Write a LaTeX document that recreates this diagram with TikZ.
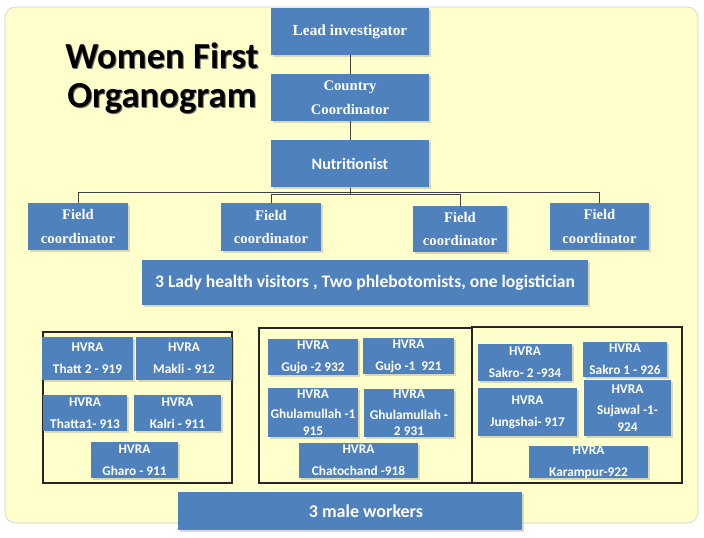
\documentclass[tikz,border=0pt]{standalone}
\usepackage{fontspec}
\setmainfont{Liberation Serif}
\newfontfamily\slidefont{Carlito}
\usetikzlibrary{positioning,shadows}
\definecolor{boxblue}{HTML}{4F81BD}
\definecolor{slideyellow}{HTML}{FFFFCC}

\begin{document}
\begin{tikzpicture}[x=0.75pt, y=-0.75pt, node distance=14pt,
    b/.style={rectangle, fill=boxblue, text=white, inner sep=0pt, align=center,
      drop shadow={shadow xshift=1.2pt, shadow yshift=-1.2pt, opacity=0.3}},
    sb/.style={b, font=\bfseries\fontsize{11}{17.5}\selectfont},
    hb/.style={b, font=\slidefont\bfseries\fontsize{10}{12.5}\selectfont},
    grp/.style={rectangle, draw=black!85, line width=0.8pt, inner sep=0pt},
    ln/.style={draw=black!75, line width=0.6pt},
    tt/.style={font=\slidefont\bfseries\fontsize{27.5}{29}\selectfont, align=center}]
    \useasboundingbox (0,0) rectangle (704,537);
    \fill[white] (0,0) rectangle (704,537);
    \draw[fill=slideyellow, draw=black!20, rounded corners=8pt] (5,7) rectangle (698,523);

    % title
    \node[tt, text=black!55] (titleshade) at (163,79.5) {Women First\\Organogram};
    \node[tt] (title) at (162,78) {Women First\\Organogram};

    % top chain
    \node[sb, font=\bfseries\fontsize{11.5}{17.5}\selectfont, minimum width=118.5pt, minimum height=35.25pt] (lead) at (350,31.5) {Lead investigator};
    \node[sb, minimum width=118.5pt, minimum height=35.25pt, below=of lead] (country) {Country\\Coordinator};
    \node[b, font=\slidefont\bfseries\fontsize{12}{14}\selectfont, minimum width=118.5pt, minimum height=35.25pt, below=of country] (nutri) {Nutritionist};

    % field coordinators
    \node[sb, minimum width=75pt, minimum height=35.25pt] (fc1) at (78,226.5) {Field\\coordinator};
    \node[sb, minimum width=75pt, minimum height=36pt] (fc2) at (271,227) {Field\\coordinator};
    \node[sb, minimum width=70.5pt, minimum height=34.5pt] (fc3) at (460,229) {Field\\coordinator};
    \node[sb, minimum width=74.25pt, minimum height=35.25pt] (fc4) at (599.5,226.5) {Field\\coordinator};

    \node[b, font=\slidefont\bfseries\fontsize{13.2}{15}\selectfont, minimum width=334.5pt, minimum height=33.75pt] (staff) at (365,282.5) {3 Lady health visitors , Two phlebotomists, one logistician};

    \draw[ln] (lead) -- (country);
    \draw[ln] (country) -- (nutri);
    \draw[ln] (nutri.south) -- ++(0,5) -| (fc1.north);
    \draw[ln] (nutri.south) -- ++(0,7) -| (fc2.north);
    \draw[ln] (nutri.south) -- ++(0,7) -| (fc3.north);
    \draw[ln] (nutri.south) -- ++(0,5) -| (fc4.north);

    % group 1
    \node[grp, minimum width=141.75pt, minimum height=113.25pt] (g1) at (137.5,407.5) {};
    \node[hb, minimum width=68.25pt, minimum height=32.25pt] (thatt2) at (87.5,358.5) {HVRA\\[4pt]Thatt 2 - 919};
    \node[hb, minimum width=72pt, minimum height=32.25pt] (makli) at (184,358.5) {HVRA\\[4pt]Makli - 912};
    \node[hb, minimum width=63pt, minimum height=27pt] (thatta1) at (85,413) {HVRA\\[4pt]Thatta1- 913};
    \node[hb, minimum width=65.25pt, minimum height=27pt] (kalri) at (177.5,413) {HVRA\\[4pt]Kalri - 911};
    \node[hb, minimum width=65.25pt, minimum height=27pt] (gharo) at (134.5,460) {HVRA\\[4pt]Gharo - 911};

    % group 2
    \node[grp, minimum width=159.75pt, minimum height=116.25pt] (g2) at (365.5,405.5) {};
    \node[hb, minimum width=67.5pt, minimum height=27pt] (gujo2) at (313,357) {HVRA\\[4pt]Gujo -2 932};
    \node[hb, minimum width=68.25pt, minimum height=27pt] (gujo1) at (408.5,356) {HVRA\\[4pt]Gujo -1\ \ 921};
    \node[hb, minimum width=67.5pt, minimum height=36.75pt] (ghul1) at (313,412.5) {HVRA\\[3pt]Ghulamullah -1\\915};
    \node[hb, minimum width=67.5pt, minimum height=36pt] (ghul2) at (409,413) {HVRA\\[3pt]Ghulamullah -\\2 931};
    \node[hb, minimum width=89.25pt, minimum height=26.25pt] (chato) at (358.5,460.5) {HVRA\\[4pt]Chatochand -918};

    % group 3
    \node[grp, minimum width=157.5pt, minimum height=117pt] (g3) at (577,405) {};
    \node[hb, minimum width=70.5pt, minimum height=27.75pt] (sakro2) at (525,362.5) {HVRA\\[4pt]Sakro- 2 -934};
    \node[hb, minimum width=63pt, minimum height=26.25pt] (sakro1) at (625,359.5) {HVRA\\[4pt]Sakro 1 - 926};
    \node[hb, minimum width=74.25pt, minimum height=36pt] (jung) at (527.5,412) {HVRA\\[4pt]Jungshai- 917};
    \node[hb, minimum width=65.25pt, minimum height=42pt] (sujawal) at (627.5,408) {HVRA\\[3pt]Sujawal -1-\\924};
    \node[hb, minimum width=89.25pt, minimum height=24pt] (karam) at (588.5,462) {HVRA\\[4pt]Karampur-922};

    \node[b, font=\slidefont\bfseries\fontsize{13.5}{15}\selectfont, minimum width=258pt, minimum height=28.5pt] (male) at (350,511) {\hspace*{24pt}3 male workers};
\end{tikzpicture}
\end{document}
